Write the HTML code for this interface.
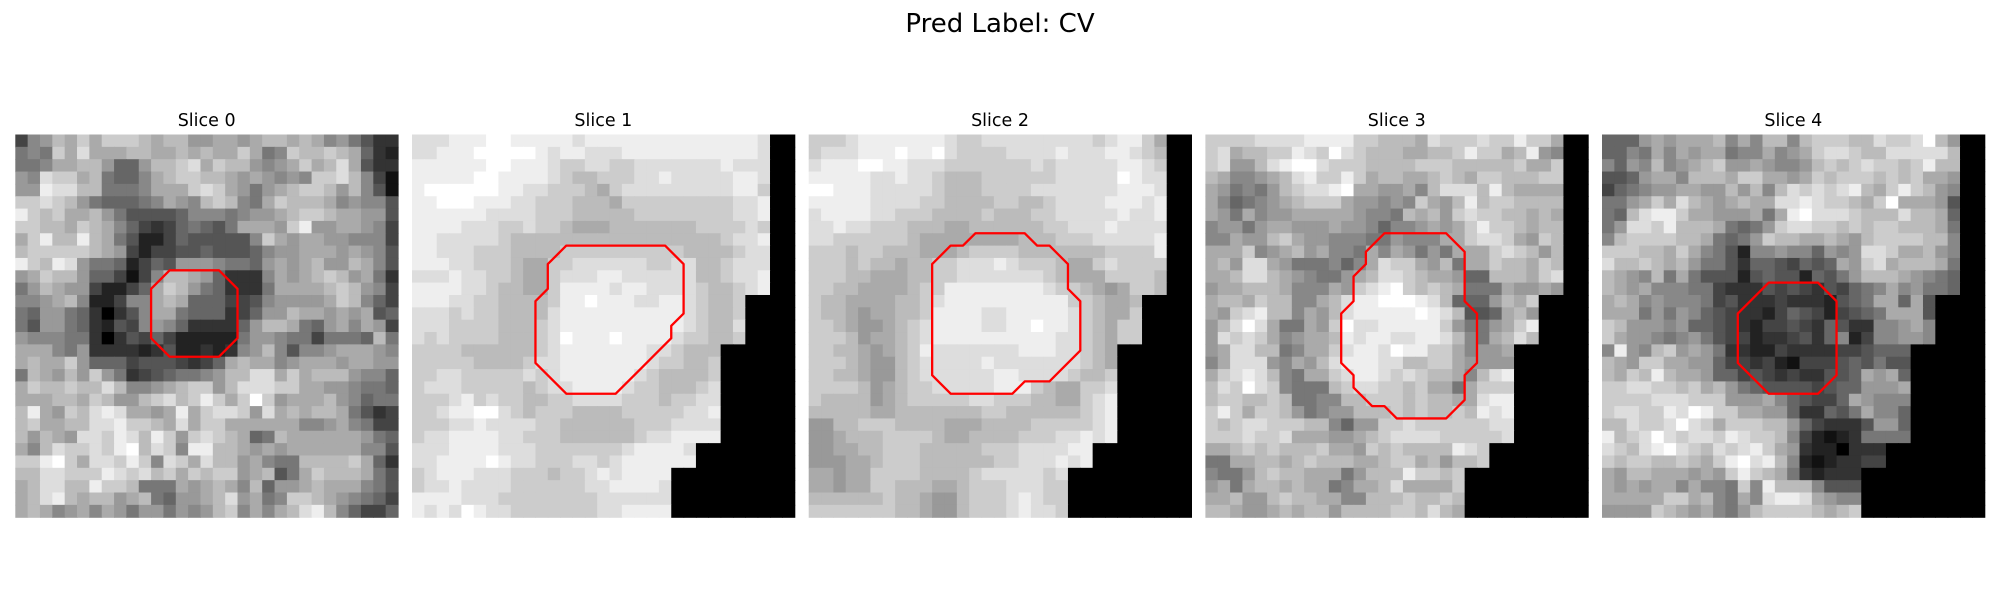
<!DOCTYPE html>
<html><head><meta charset="utf-8"><style>
html,body{margin:0;padding:0;background:#fff;}
svg{display:block;}
text{font-family:"DejaVu Sans","Liberation Sans",sans-serif;fill:#000;}
</style></head><body>
<svg id="fig" width="2000" height="600" viewBox="0 0 2000 600" xmlns="http://www.w3.org/2000/svg">
<text x="1000" y="32" text-anchor="middle" font-size="26">Pred Label: CV</text>
</svg>
<script>
const sliceTitles = ["Slice 0","Slice 1","Slice 2","Slice 3","Slice 4"];
const slice0 = ["489bacacccbabb99aa9abbaba897533","787cadaaabbaababaaca78cbbcba632","778aabb9669bbcdacbb989acabda533","98dccab7668abccbba9a9898ccdb841","99eddbb7778aaacdca979abccb9b851","ccdcb9766678a98bcb87acbbba89885","ecbcaab97555568887899abccbaa995","ccbbacba8643467657aaa9ce99aa984","acebbeba752246555558ca9aa998884","bcccccba942445565556899aaa9a985","ecbed9776246599987769a9ab99ba85","9acbb9664148bba963338a9abcb9a73","79ba9942246acb9763337aaaabcb984","889ab822488aba66644589999acb864","76997630358aa766634699baa9a9a56","75997632548986333369bba769a8a94","98887730354642222279987747776b7","aaa87933332352232389b85889aaa98","abaac966645554346abaa89aaa9aa99","7ba9b9c9734567789bbddacabbb9886","acbbcbbdb889abcc9bdddccaa998776","aaabbacb99bcdbcecacfc9aaab98677","bea9cbdedaa9aeacddc9dababba7534","bcaabbddeccbadaccaaaaaa889a8744","b9ba9ddcedbec9cdcba67baaaaaa976","a8bdccdcefbdc8eebba9a9aaaaaa885","ccefcaddcec8dcadbb9a877bbbbca63","bbddcccedcdbcacbcc9ab57acbbba75","abddbbeccb777a9aba8b699abaaa875","abdebabb9ab7699abd9a78ccba98764","aba89a8a97997989bc8a8abdeb86446"];
const slice1 = ["dddeeeffeeeeedeeeeeeeeeeeeeed","ddeeefffffedeedddeeeeeeeeeeed","eeeeeeffeeedccddccdddddddeddd","eeeeeffeeeedcbbcccddedddddeed","effffffeeddcccbacdddddddddeec","eefffeeeddcccbbbacccccccccdde","eeeeeeddddcccbbbbbccccccccdde","eeeedddccdccbaaabbbbbbbccccdc","eedddddcbbbbbbbbbbbbbbbbbcdde","eedddcccbbbbccccccccccbbbbcdd","eeeddcccbaaccddddddccddbbcddd","dddeddccbaacdddeeddddddbbcdde","eeeeddcbbaaceeeedeeddddcbbcde","eeeddccbbbbceefeeeddeedcbbc","dddcdccbbbbdeeeeeeeeeedcbbc","dddccccbbbcdeeeeeeeeeedcbbd","dcdccccbbbcdfeeefeeeedccbbc","ccccbbbbbbcdeeeeeeeddcbbb","cccccbbbbcddeeeeeeedccbbc","ccddcccccdcdeeeeeedcbbbbc","cdddcccccbcddeeeedccbbbcd","cccdecdccbbccddddcccbccdd","ccdeeffdcbcccbbbbcccccdde","cccddeddddccbbbbbbcccdddd","cddeeeeddcccbbbbbbcddeeee","dddeeeedddcccccccdeeeed","ddeeeefeddcccddcdeeeeee","cdeeedddcccbccdedeeee","cddeddddccccccddeeeed","eeeedddccccccccdddddd","ededfeddcccccccddeeee"];
const slice2 = ["cccdeeeeeeedccdddddddddcdeeca","cdddeeefeefdccccddddedddeedcb","deeeffeedddcccccccdcdddddeedc","eeeeeddeddcbbbccccccdddddfedd","ffeeedddddcbbbccccdddddddeeed","eeeeeddddccbbbbccbbcddddeeede","deeeeddcccbbbbcbbbccdddddedde","ddeddcccbbbaabbbbbbccdddedddd","ddccccccbaaaaaaaabbbcccddddde","cccbccbbbaaabccccbbbbbbbcccce","cccbcbbabbccdddedcccbaacdcccc","cccbbaaabbccdddddddcbaaaccccb","ccbbaaaabcceeeeeeeedccba9accb","cbbaaaabbcdeeeeeeeeeeccbaab","cbba9aabbceeeeddeeeeedcbaac","ccba99abcdeeeeddeefeedcbacc","cccb9aabcdeeeeeeeeeeddcbacc","ccbba9abcedddddddeeeddcba","cccba99bcdddddedddddddcba","ccbba99bcddddddeeddddcbbc","ccccb9abccdddddeeecbaaccd","cbbbb9abcccccddcccbbaacde","bbbbbaabbbbbbbccbbbbbbcde","99bbcccbbbbaaabbbbcccccde","99abbbccccbaabbbbcccddede","99aabbcccbbbbbcccddddee","999aabcccbbbbbbccdddede","aa9aaccccbbbbcdddddcd","aa9aaccbbbaabcccdddcc","bbbbbbcbba99bcccdedcc","cccccccbba99bcccdeddc"];
const slice3 = ["ccccddddeeeeccbbbadcccdccecca","cdabbccedcfdcbbbaabbceccabe98","cd99bdeffdcccbbbbcccbbbbbcaac","ba889abdeccecabbaabcbaccbbbcc","a97879bcddefaa99a8bdddbebaaaa","a86789abccca99898ca9bebccbbbb","a97a899aaaaa9887bab9cdccbbaba","89979aa999a9986889a9aceccbabb","88a99bca99888779888aacddca9cb","aaac89ab9a887a8a9797aaacdcb9b","ab9dda9777868adcca9b7aacbbacb","aabddba98779abddcbaa966bbbacd","9aabbba888a9cdefcbcba777a99a9","abbacbb88abdeefffedb6669bac","a9cdebb8a9bdeeeeefedb556ab9","9bdfda77a9cfddeeeeec9779ace","9dcdca89aabedeeddeedb87abdb","9addbb78aacdeedfeecca899a","8addd98a9bdeeeddbbcca9999","acdedb87aacdeedcdcbba8bde","bdcfdc8777bcddccbcaa7accc","bccbbcb7788bbcccbcbbaadee","cecaccb97899bbbcbcbbcbede","cbcddcccbb8699ccdccccccdd","cccdccdaaa99abcddddcccccd","aabcbcbbbcaa9cbcbbbbedc","77aabbabcbbbaabccab9bbc","8779bcbbaaa79bbbeccbc","9a7abbabaa78aabdaaaac","aab99bcbbaa88bbbcbbcb","bba99ababb9bbbbccbdba"];
const slice4 = ["6669a9aaab8a8bb8bcccbbdccdfb9","6687a8a9aa788a89acddcbbdddddb","8698b89abc99a9889bcbcdccbcebb","5569aa8bbbaccaa9acbcccbcbcaa9","467899aa99b9b8bdcdcdebacecb98","779acadba9abaaddedccbacfaaa95","76bdeecaa999a7aefdddcbbbdbba6","79ddcebbba7679cddccbcbccbbba7","8bccccbba7679cbbaaba9bccccbb8","cccbbaca8752889886989ddcaab98","dbbcbab977536654656a9cdabbba7","ba98b7a75552565526579bbba9876","ba9a8887743335454354678a89776","aba8988874533343332567aa6a5","aaa79798654332465424567aaa5","cb99989665432445436533889a8","ca9987897544233453682488998","8e98bc9a97332243333445666","ba9ccaa996443421444565755","bacbebaa9664543433556a9a6","ccddccbcab97655554566999a","ccccdddccc999a865446a9888","cddccedfeccaa99633657a886","bbdccdfdcacccbb9643335996","ebcdfdcddcedccb8421237777","dcbdefdcbdcdeca93220333","cbccbbcbacefdeb82123344","a9bbaaa9a9cecba732333","a9a9aa8a887c8ebbb8555","aaaaaccab87a8deeda988","9999cba9a879bccccbabc"];
const contour0 = [[12.5,11],[16.5,11],[18,12.5],[18,16.5],[16.5,18],[12.5,18],[11,16.5],[11,12.5]];
const contour1 = [[12.5,9],[20.5,9],[22,10.5],[22,14.5],[21,15.5],[21,16.5],[16.5,21],[12.5,21],[10,18.5],[10,13.5],[11,12.5],[11,10.5]];
const contour2 = [[13.5,8],[17.5,8],[18.5,9],[19.5,9],[21,10.5],[21,12.5],[22,13.5],[22,17.5],[19.5,20],[17.5,20],[16.5,21],[11.5,21],[10,19.5],[10,10.5],[11.5,9],[12.5,9]];
const contour3 = [[14.5,8],[19.5,8],[21,9.5],[21,13.5],[22,14.5],[22,18.5],[21,19.5],[21,21.5],[19.5,23],[15.5,23],[14.5,22],[13.5,22],[12,20.5],[12,19.5],[11,18.5],[11,14.5],[12,13.5],[12,11.5],[13,10.5],[13,9.5]];
const contour4 = [[13.5,12],[17.5,12],[19,13.5],[19,19.5],[17.5,21],[13.5,21],[11,18.5],[11,14.5]];

const slices = [slice0,slice1,slice2,slice3,slice4];
const contours = [contour0,contour1,contour2,contour3,contour4];
const NS = "http://www.w3.org/2000/svg";
const svg = document.getElementById('fig');
const N = 31, panelLefts = [15.3, 412, 808.7, 1205.4, 1602], top0 = 134.5, size = 382.7;
const cell = size / N;
function xs(p, c){ return panelLefts[p] + c * cell; }
function ys(r){ return top0 + r * cell; }
slices.forEach((grid, p) => {
  const g = document.createElementNS(NS,'g');
  
  
  svg.appendChild(g);
  const t = document.createElementNS(NS,'text');
  
  
  t.setAttribute('x', panelLefts[p] + size/2); t.setAttribute('y', 126);
  t.setAttribute('text-anchor','middle'); t.setAttribute('font-size','17.5');
  t.textContent = sliceTitles[p];
  g.appendChild(t);
  for (let r = 0; r < N; r++) {
    const row = grid[r] || '';
    for (let c = 0; c < N; c++) {
      let ch = row[c];
      let v = (ch === undefined || ch === ' ') ? 0 : parseInt(ch, 16);
      if (isNaN(v)) v = 0;
      const g8 = v * 17;
      const rc = document.createElementNS(NS,'rect');
      
      
      rc.setAttribute('x', xs(p,c)); rc.setAttribute('y', ys(r));
      rc.setAttribute('width', cell + 0.6); rc.setAttribute('height', cell + 0.6);
      rc.setAttribute('fill', 'rgb(' + g8 + ',' + g8 + ',' + g8 + ')');
      g.appendChild(rc);
    }
  }
  const pl = document.createElementNS(NS,'polygon');
  
  
  pl.setAttribute('points', contours[p].map(pt => xs(p, pt[0]) + ',' + ys(pt[1])).join(' '));
  pl.setAttribute('fill', 'none'); pl.setAttribute('stroke', '#ff0000');
  pl.setAttribute('stroke-width', '2.3'); pl.setAttribute('stroke-linejoin', 'round');
  g.appendChild(pl);
});
</script>
</body></html>
